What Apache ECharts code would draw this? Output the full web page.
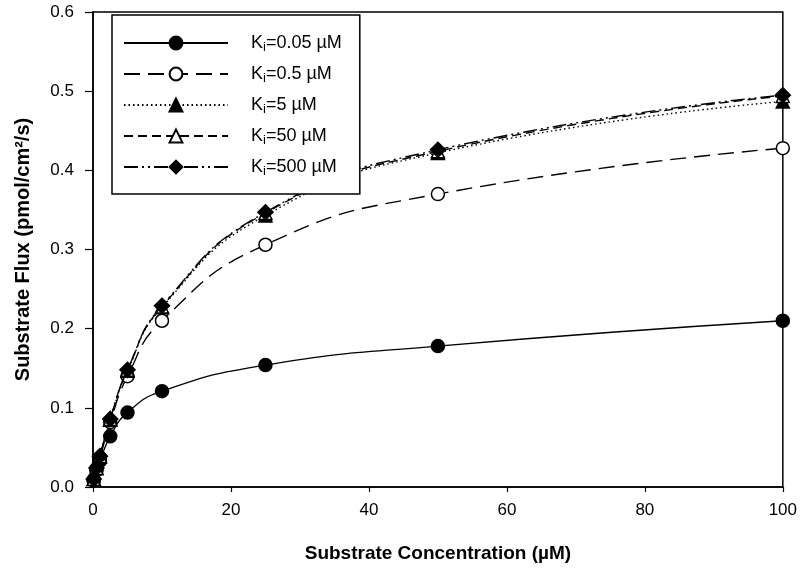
<!DOCTYPE html>
<html>
<head>
<meta charset="utf-8">
<script src="https://cdn.jsdelivr.net/npm/echarts@6/dist/echarts.min.js"></script>
<style>
html,body{margin:0;padding:0;background:#fff;}
#chart{width:800px;height:568px;}
</style>
</head>
<body>
<div id="chart"></div>
<script>
const conc = [0.1, 0.5, 1, 2.5, 5, 10, 25, 50, 100];
const ki005 = [0.008, 0.021, 0.033, 0.064, 0.094, 0.121, 0.154, 0.178, 0.210];
const ki05 = [0.009, 0.023, 0.037, 0.082, 0.140, 0.210, 0.306, 0.370, 0.428];
const ki5 = [0.010, 0.024, 0.039, 0.085, 0.147, 0.227, 0.343, 0.422, 0.487];
const ki50 = [0.010, 0.024, 0.039, 0.086, 0.148, 0.228, 0.346, 0.424, 0.494];
const ki500 = [0.010, 0.024, 0.039, 0.086, 0.148, 0.229, 0.347, 0.426, 0.495];
const seriesNames = ['0.05', '0.5', '5', '50', '500'];
const yTicks = [0, 0.1, 0.2, 0.3, 0.4, 0.5, 0.6];
const xTicks = [0, 20, 40, 60, 80, 100];

const font = 'Liberation Sans, Arial, sans-serif';
const diamond = 'path://M0,-1L1,0L0,1L-1,0Z';
const styles = [
  {symbol: 'circle', fill: '#000', dash: 'solid', size: 13},
  {symbol: 'circle', fill: '#fff', dash: [16, 8], size: 13},
  {symbol: 'triangle', fill: '#000', dash: [1.5, 3], size: 13},
  {symbol: 'triangle', fill: '#fff', dash: [9, 5], size: 13},
  {symbol: diamond, fill: '#000', dash: [14, 4, 2, 4, 2, 4], size: 15}
];
const dataSets = [ki005, ki05, ki5, ki50, ki500];

const series = dataSets.map((vals, i) => ({
  name: 'Ki=' + seriesNames[i] + ' µM',
  type: 'line',
  data: conc.map((c, j) => [c, vals[j]]),
  smooth: 0.5,
  symbol: styles[i].symbol,
  symbolSize: styles[i].size,
  showAllSymbol: true,
  itemStyle: {color: styles[i].fill, borderColor: '#000', borderWidth: 1.5},
  lineStyle: {color: '#000', width: 1.4, type: styles[i].dash},
  emphasis: {disabled: true},
  z: 2 + i
}));

const chart = echarts.init(document.getElementById('chart'), null, {renderer: 'canvas'});
chart.setOption({
  animation: false,
  backgroundColor: '#fff',
  grid: {left: 93, right: 15, top: 12, bottom: 79, show: true, borderColor: '#000', borderWidth: 1.5, backgroundColor: 'transparent'},
  legend: {
    orient: 'vertical',
    left: 112, top: 15,
    itemWidth: 104, itemHeight: 16, itemGap: 11,
    padding: [19, 18, 16, 11],
    backgroundColor: '#fff',
    borderColor: '#000', borderWidth: 1.5,
    borderRadius: 0,
    data: series.map(s => s.name),
    formatter: function (name) {
      const v = name.replace('Ki=', '');
      return '{k|K}{i|i}{k|=' + v + '}';
    },
    textStyle: {
      fontFamily: font, fontSize: 18, color: '#000',
      padding: [0, 0, 0, 18],
      rich: {
        k: {fontFamily: font, fontSize: 18, color: '#000', lineHeight: 22, verticalAlign: 'middle'},
        i: {fontFamily: font, fontSize: 13, color: '#000', lineHeight: 12, verticalAlign: 'bottom'}
      }
    },
    z: 20
  },
  xAxis: {
    type: 'value', min: 0, max: 100, interval: 20,
    name: 'Substrate Concentration (µM)',
    nameLocation: 'middle', nameGap: 57,
    nameTextStyle: {fontFamily: font, fontSize: 19, fontWeight: 'bold', color: '#000'},
    axisLine: {show: true, onZero: false, lineStyle: {color: '#000', width: 1.5}},
    axisTick: {show: true, inside: false, length: 5, lineStyle: {color: '#000', width: 1.2}},
    axisLabel: {fontFamily: font, fontSize: 17, color: '#000', margin: 15,
      formatter: v => xTicks.includes(v) ? String(v) : ''},
    splitLine: {show: false}
  },
  yAxis: {
    type: 'value', min: 0, max: 0.6, interval: 0.1,
    name: 'Substrate Flux (pmol/cm²/s)',
    nameLocation: 'middle', nameGap: 60,
    nameTextStyle: {fontFamily: font, fontSize: 20, fontWeight: 'bold', color: '#000'},
    axisLine: {show: true, onZero: false, lineStyle: {color: '#000', width: 1.5}},
    axisTick: {show: true, inside: false, length: 8, lineStyle: {color: '#000', width: 1.2}},
    axisLabel: {fontFamily: font, fontSize: 17, color: '#000', margin: 19,
      formatter: v => yTicks.some(t => Math.abs(t - v) < 1e-9) ? v.toFixed(1) : ''},
    splitLine: {show: false}
  },
  series: series
});
</script>
</body>
</html>
